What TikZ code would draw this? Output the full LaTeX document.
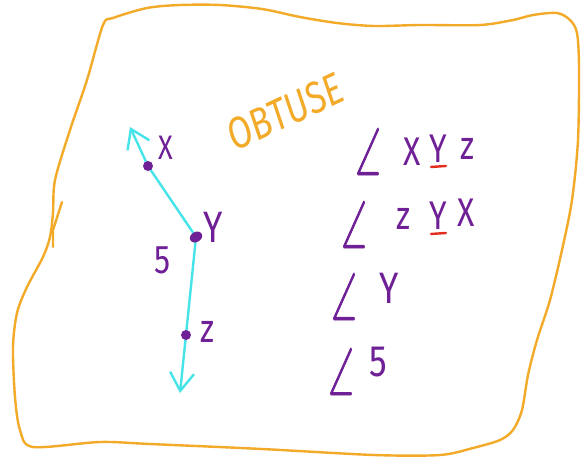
\documentclass[tikz,border=0pt]{standalone}
\usepackage{fontspec}
\setmainfont{Fira Sans}
\newfontfamily\handfont[FakeStretch=0.8]{Fira Sans}
\newfontfamily\titlefont[FakeStretch=0.8]{Fira Sans}
\newfontfamily\angfont[FakeStretch=0.48,FakeBold=1.2]{latinmodern-math.otf}
\usetikzlibrary{arrows.meta}
\definecolor{bord}{RGB}{242,170,40}
\definecolor{ray}{RGB}{70,228,232}
\definecolor{pur}{RGB}{112,32,150}
\definecolor{und}{RGB}{226,44,30}
\begin{document}
\begin{tikzpicture}[x=1pt,y=-1pt,
  hand/.style={text=pur, font=\handfont\fontsize{40}{40}\selectfont, inner sep=0pt},
  small/.style={text=pur, font=\handfont\fontsize{34}{34}\selectfont, inner sep=0pt},
  big/.style={text=pur, font=\handfont\fontsize{44}{44}\selectfont, inner sep=0pt},
  ang/.style={text=pur, font=\angfont\fontsize{66}{66}\selectfont, inner sep=0pt},
  rayline/.style={draw=ray, line width=2.4pt, line cap=round, line join=round},
  barb/.style={-{Straight Barb[length=18pt,width=24pt,line width=2.4pt]}},
  pdot/.style={fill=pur},
  uline/.style={draw=und, line width=2.4pt, line cap=round}]
\useasboundingbox (0,0) rectangle (584,461);
\fill[white] (0,0) rectangle (584,461);
% border
\draw[bord, line width=2.4pt, line join=round] plot[smooth cycle, tension=0.5] coordinates {
 (103,25) (113,18) (147,8) (180,5) (220,5) (262,9) (300,17) (337,23) (374,26)
 (420,25) (480,25) (513,20) (533,15) (557,13) (570,20) (577,33) (579,67) (578,140)
 (572,200) (562,250) (550,300) (537,340) (528,375) (522,410) (513,430) (500,440)
 (473,448) (440,455) (374,455) (262,449) (150,444) (100,442) (33,447) (20,430)
 (15,397) (13,347) (17,313) (27,287) (43,257) (50,237) (53,213) (55,180) (70,130) (87,80)};
\coordinate (tick1) at (62,202);
\coordinate (tick2) at (53,230);
\coordinate (tick3) at (53,247);
\draw[bord, line width=2.4pt, line cap=round, line join=round] (tick1) -- (tick2) -- (tick3);
% title
\node[text=bord, font=\titlefont\itshape\fontsize{44}{44}\selectfont, rotate=25, inner sep=0pt] (title) at (285,112) {OBTUSE};
% ray points
\coordinate (T) at (130,127);
\coordinate (X) at (148,166);
\coordinate (Y) at (196,237);
\coordinate (Z) at (186,335);
\coordinate (B) at (180,393);
\draw[rayline, barb] (Y) -- (X) -- (T);
\draw[rayline, barb] (Y) -- (Z) -- (B);
\fill[pdot] (X) circle[radius=5pt];
\fill[pdot, rotate around={30:(Y)}] (Y) ellipse[x radius=6.5pt, y radius=5pt];
\fill[pdot] (Z) circle[radius=5pt];
\node[small] (lx) at (166,148) {X};
\node[big] (ly) at (213,227) {Y};
\node[hand] (l5) at (163,260) {5};
\node[hand] (lz) at (207,332) {z};
% right column
\node[ang] (a1) at (368,152) {∠};
\node[hand] (r1x) at (412,152) {X};
\node[hand] (r1y) at (438,149) {Y};
\node[hand] (r1z) at (467,149) {z};
\draw[uline] ([xshift=-7pt,yshift=-4pt]r1y.south) -- ([xshift=8pt,yshift=-3pt]r1y.south);
\node[ang] (a2) at (354,225) {∠};
\node[hand] (r2z) at (403,219) {z};
\node[hand] (r2y) at (438,216) {Y};
\node[hand] (r2x) at (466,213) {X};
\draw[uline] ([xshift=-7pt,yshift=-4pt]r2y.south) -- ([xshift=8pt,yshift=-3pt]r2y.south);
\node[ang] (a3) at (344,297) {∠};
\node[big] (r3y) at (389,288) {Y};
\node[ang] (a4) at (341,372) {∠};
\node[big] (r45) at (378,362) {5};
\end{tikzpicture}
\end{document}
